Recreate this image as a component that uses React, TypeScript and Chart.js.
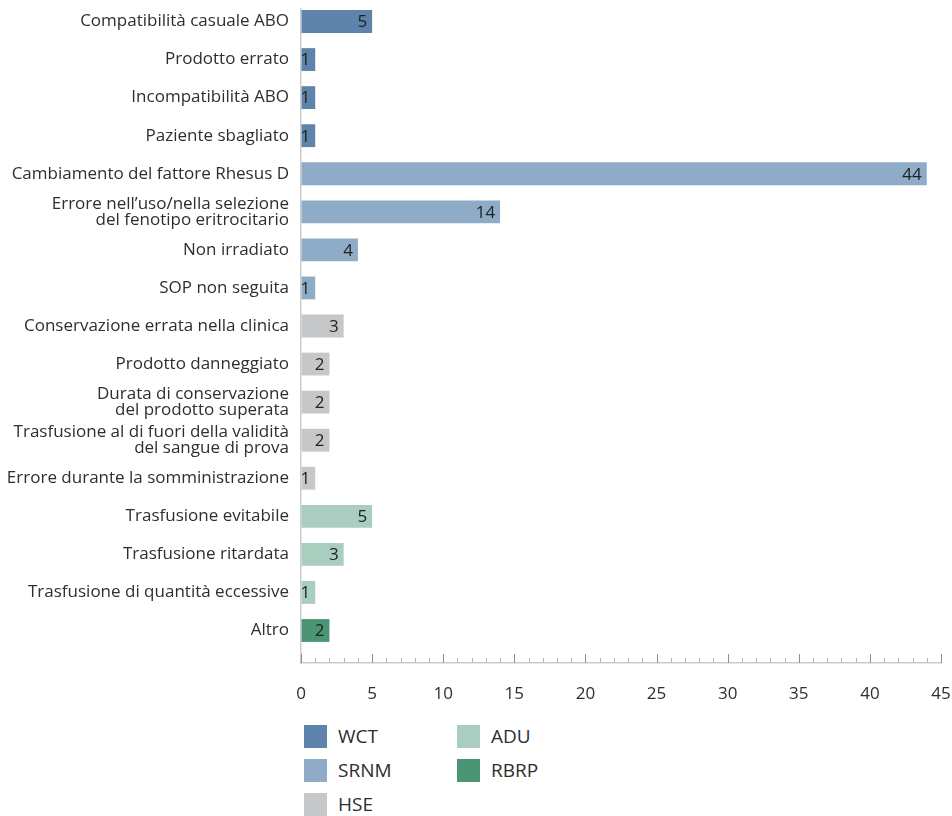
import React, { useEffect, useRef } from "react";
import { Chart, registerables } from "chart.js";

Chart.register(...registerables);

const categories: string[] = [
  "Compatibilità casuale ABO",
  "Prodotto errato",
  "Incompatibilità ABO",
  "Paziente sbagliato",
  "Cambiamento del fattore Rhesus D",
  "Errore nell’uso/nella selezione\ndel fenotipo eritrocitario",
  "Non irradiato",
  "SOP non seguita",
  "Conservazione errata nella clinica",
  "Prodotto danneggiato",
  "Durata di conservazione\ndel prodotto superata",
  "Trasfusione al di fuori della validità\ndel sangue di prova",
  "Errore durante la somministrazione",
  "Trasfusione evitabile",
  "Trasfusione ritardata",
  "Trasfusione di quantità eccessive",
  "Altro",
];

const values: number[] = [5, 1, 1, 1, 44, 14, 4, 1, 3, 2, 2, 2, 1, 5, 3, 1, 2];

const groupOf: string[] = [
  "WCT", "WCT", "WCT", "WCT",
  "SRNM", "SRNM", "SRNM", "SRNM",
  "HSE", "HSE", "HSE", "HSE", "HSE",
  "ADU", "ADU", "ADU",
  "RBRP",
];

const groupNames: string[] = ["WCT", "SRNM", "HSE", "ADU", "RBRP"];
const groupColors: string[] = ["#5e84ab", "#8eabc8", "#c6c7c9", "#a9cec0", "#4a9674"];

const xTickLabels: number[] = [0, 5, 10, 15, 20, 25, 30, 35, 40, 45];

const FONT = '"Open Sans", "Noto Sans", sans-serif';
const TEXT = "#2e2e2e";

const colorFor = (g: string) => groupColors[groupNames.indexOf(g)];

const valueLabels = {
  id: "valueLabels",
  afterDatasetsDraw(chart: any) {
    const ctx = chart.ctx;
    const meta = chart.getDatasetMeta(0);
    ctx.save();
    ctx.font = `17px ${FONT}`;
    ctx.fillStyle = "#222222";
    ctx.textAlign = "right";
    ctx.textBaseline = "middle";
    meta.data.forEach((bar: any, i: number) => {
      ctx.fillText(String(values[i]), bar.x - 5, bar.y + 1);
    });
    ctx.restore();
  },
};

const innerTicks = {
  id: "innerTicks",
  afterDraw(chart: any) {
    const ctx = chart.ctx;
    const xs = chart.scales.x;
    const yb = chart.chartArea.bottom;
    ctx.save();
    ctx.lineWidth = 1;
    for (let v = xs.min; v <= xs.max; v++) {
      const px = Math.round(xs.getPixelForValue(v)) + 0.5;
      const major = xTickLabels.includes(v);
      ctx.strokeStyle = major ? "#8f8f8f" : "#b8b8b8";
      ctx.beginPath();
      ctx.moveTo(px, yb);
      ctx.lineTo(px, yb - (major ? 9 : 5));
      ctx.stroke();
    }
    ctx.restore();
  },
};

export default function App() {
  const ref = useRef<HTMLCanvasElement | null>(null);

  useEffect(() => {
    document.body.style.margin = "0";
    if (!ref.current) return;
    const n = categories.length;
    const chart = new Chart(ref.current, {
      type: "bar",
      data: {
        datasets: [
          {
            data: values.map((v, i) => ({ x: v, y: i })) as any,
            backgroundColor: groupOf.map(colorFor),
            borderWidth: 0,
            barPercentage: 0.6,
            categoryPercentage: 1,
          },
        ],
      },
      options: {
        indexAxis: "y",
        responsive: false,
        animation: false,
        layout: { padding: { top: 9, right: 11, left: 0, bottom: 0 } },
        plugins: { legend: { display: false }, tooltip: { enabled: false } },
        scales: {
          y: {
            type: "linear",
            reverse: true,
            offset: false,
            min: -0.328,
            max: n - 1 + 0.854,
            afterBuildTicks: (scale: any) => {
              scale.ticks = categories.map((_, i) => ({ value: i }));
            },
            afterFit: (scale: any) => {
              scale.width = 301;
              scale.paddingTop = 0;
              scale.paddingBottom = 0;
            },
            ticks: {
              autoSkip: false,
              padding: 12,
              color: TEXT,
              font: { family: FONT, size: 17, lineHeight: 0.95 },
              callback: (v: any) => categories[v]?.split("\n"),
            },
            grid: { display: true, offset: false, drawOnChartArea: false, drawTicks: false },
            border: { display: true, color: "#cbcbcb", width: 1.5 },
          },
          x: {
            type: "linear",
            min: 0,
            max: 45,
            afterBuildTicks: (scale: any) => {
              scale.ticks = xTickLabels.map((v) => ({ value: v }));
            },
            afterFit: (scale: any) => {
              scale.height = 716 - 663;
              scale.paddingLeft = 0;
              scale.paddingRight = 0;
            },
            ticks: {
              padding: 21,
              color: TEXT,
              maxRotation: 0,
              font: { family: FONT, size: 17 },
            },
            grid: { display: true, drawOnChartArea: false, drawTicks: false },
            border: { display: true, color: "#cbcbcb", width: 1.5 },
          },
        },
      },
      plugins: [valueLabels, innerTicks],
    });
    return () => chart.destroy();
  }, []);

  const order = [0, 1, 2, 3, 4];
  return (
    <div style={{ position: "relative", width: 952, height: 816, fontFamily: FONT, color: TEXT }}>
      <canvas ref={ref} width={952} height={716} style={{ display: "block" }} />
      <div
        style={{
          position: "absolute",
          left: 304,
          top: 725,
          display: "grid",
          gridAutoFlow: "column",
          gridTemplateRows: "repeat(3, 34px)",
          gridTemplateColumns: "153px auto",
        }}
      >
        {order.map((i) => (
          <div key={groupNames[i]} style={{ display: "flex", alignItems: "flex-start", height: 34 }}>
            <span style={{ width: 23, height: 23, background: groupColors[i], display: "inline-block" }} />
            <span style={{ marginLeft: 11, fontSize: 19, lineHeight: "23px" }}>{groupNames[i]}</span>
          </div>
        ))}
      </div>
    </div>
  );
}
